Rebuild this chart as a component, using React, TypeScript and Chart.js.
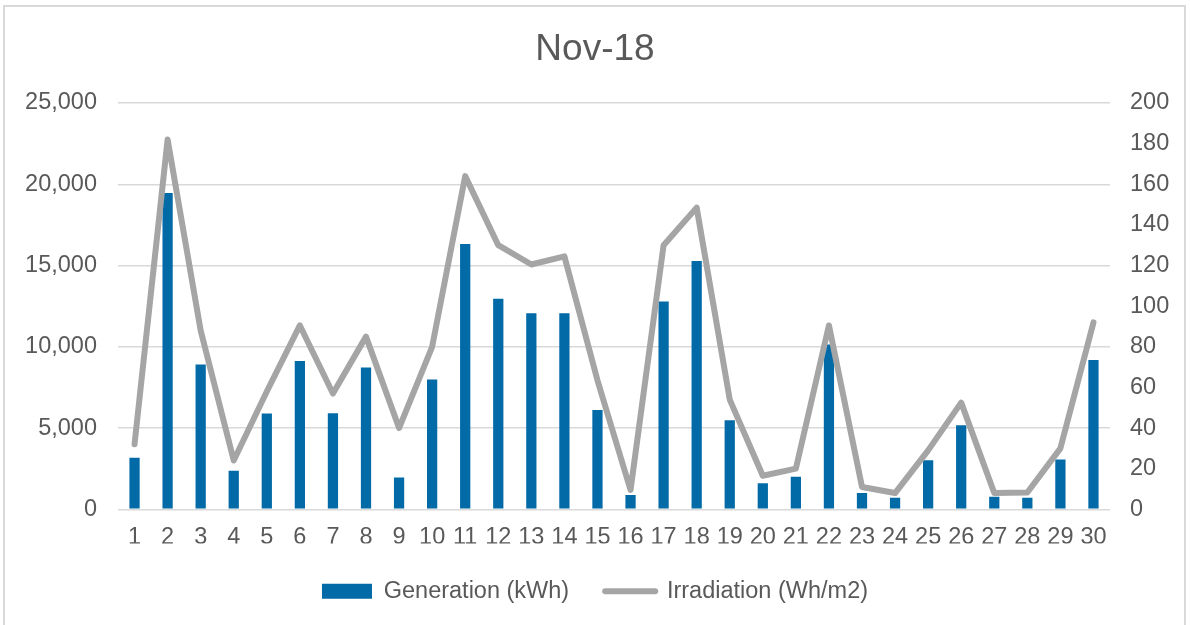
import React, { useEffect, useRef } from "react";
import { Chart, registerables } from "chart.js";

Chart.register(...registerables);

const days: string[] = Array.from({ length: 30 }, (_, i) => String(i + 1));
const generation: number[] = [3170, 19460, 8910, 2370, 5890, 9120, 5910, 8730, 1960, 7980, 16320, 12960, 12060, 12060, 6110, 880, 12780, 15280, 5480, 1610, 2000, 10140, 1000, 710, 3020, 5170, 770, 710, 3070, 9180];
const irradiation: number[] = [32, 182, 88, 24, 58, 90.5, 57, 85, 40, 80, 164, 130, 120.5, 124.5, 63.5, 9.5, 130, 148.5, 54, 16.5, 20, 90.5, 11, 8, 29, 52.5, 8, 8.3, 30, 92];
const chartTitle = "Nov-18";
const genLabel = "Generation (kWh)";
const irrLabel = "Irradiation (Wh/m2)";

const BLUE = "#016aa7";
const GRAY = "#a5a5a5";
const TEXT = "#595959";
const GRID = "#d9d9d9";
const FONT = "'Liberation Sans', Arial, sans-serif";

export default function App() {
  const ref = useRef<HTMLCanvasElement | null>(null);
  useEffect(() => {
    if (!ref.current) return;
    const chart = new Chart(ref.current, {
      type: "bar",
      data: {
        labels: days,
        datasets: [
          {
            type: "bar",
            label: genLabel,
            data: generation,
            backgroundColor: BLUE,
            yAxisID: "y",
            order: 2,
            barPercentage: 0.31,
            categoryPercentage: 1,
          },
          {
            type: "line",
            label: irrLabel,
            data: irradiation,
            borderColor: GRAY,
            backgroundColor: GRAY,
            borderWidth: 6,
            pointRadius: 0,
            tension: 0,
            borderJoinStyle: "round",
            borderCapStyle: "round",
            yAxisID: "y1",
            order: 1,
          } as any,
        ],
      },
      options: {
        responsive: false,
        animation: false,
        layout: { padding: { left: 0, right: 0, top: 0, bottom: 12 } },
        plugins: {
          tooltip: { enabled: false },
          title: {
            display: true,
            text: chartTitle,
            color: TEXT,
            font: { family: FONT, size: 37, weight: "normal" },
            padding: { top: 28, bottom: 30.6 },
          },
          legend: {
            position: "bottom",
            labels: {
              color: TEXT,
              font: { family: FONT, size: 23.5 },
              usePointStyle: true,
              pointStyleWidth: 50,
              boxHeight: 15,
              padding: 36,
              generateLabels: () => [
                {
                  text: genLabel,
                  fillStyle: BLUE,
                  strokeStyle: BLUE,
                  lineWidth: 0,
                  pointStyle: "rect",
                  fontColor: TEXT,
                  datasetIndex: 0,
                  hidden: false,
                } as any,
                {
                  text: irrLabel,
                  fillStyle: GRAY,
                  strokeStyle: GRAY,
                  lineWidth: 6,
                  lineCap: "round",
                  pointStyle: "line",
                  fontColor: TEXT,
                  datasetIndex: 1,
                  hidden: false,
                } as any,
              ],
            },
          },
        },
        scales: {
          x: {
            offset: true,
            grid: { display: false, drawTicks: false },
            border: { display: false },
            ticks: {
              color: TEXT,
              font: { family: FONT, size: 23.5 },
              padding: 14.6,
              maxRotation: 0,
              autoSkip: false,
            },
            afterFit: (s: any) => {
              s.height = 34.2;
            },
          },
          y: {
            position: "left",
            min: 0,
            max: 25000,
            grid: { color: GRID, lineWidth: 1.5, drawTicks: false },
            border: { display: false },
            ticks: {
              stepSize: 5000,
              color: TEXT,
              font: { family: FONT, size: 23.5 },
              padding: 21,
              callback: (v: any) => Number(v).toLocaleString("en-US"),
            },
            afterFit: (s: any) => {
              s.width = 118;
            },
          },
          y1: {
            position: "right",
            min: 0,
            max: 200,
            grid: { display: false, drawTicks: false },
            border: { display: false },
            ticks: {
              stepSize: 20,
              color: TEXT,
              font: { family: FONT, size: 23.5 },
              padding: 20,
            },
            afterFit: (s: any) => {
              s.width = 80;
            },
          },
        },
      },
    });
    return () => chart.destroy();
  }, []);

  return (
    <div style={{ position: "fixed", left: 0, top: 0, width: 1190, height: 625, background: "#fff", overflow: "hidden" }}>
      <div
        style={{
          position: "absolute",
          left: 3,
          top: 5,
          width: 1183,
          height: 640,
          border: `2px solid ${GRID}`,
          boxSizing: "border-box",
        }}
      />
      <canvas ref={ref} width={1190} height={625} style={{ position: "absolute", left: 0, top: 0, width: 1190, height: 625 }} />
    </div>
  );
}
